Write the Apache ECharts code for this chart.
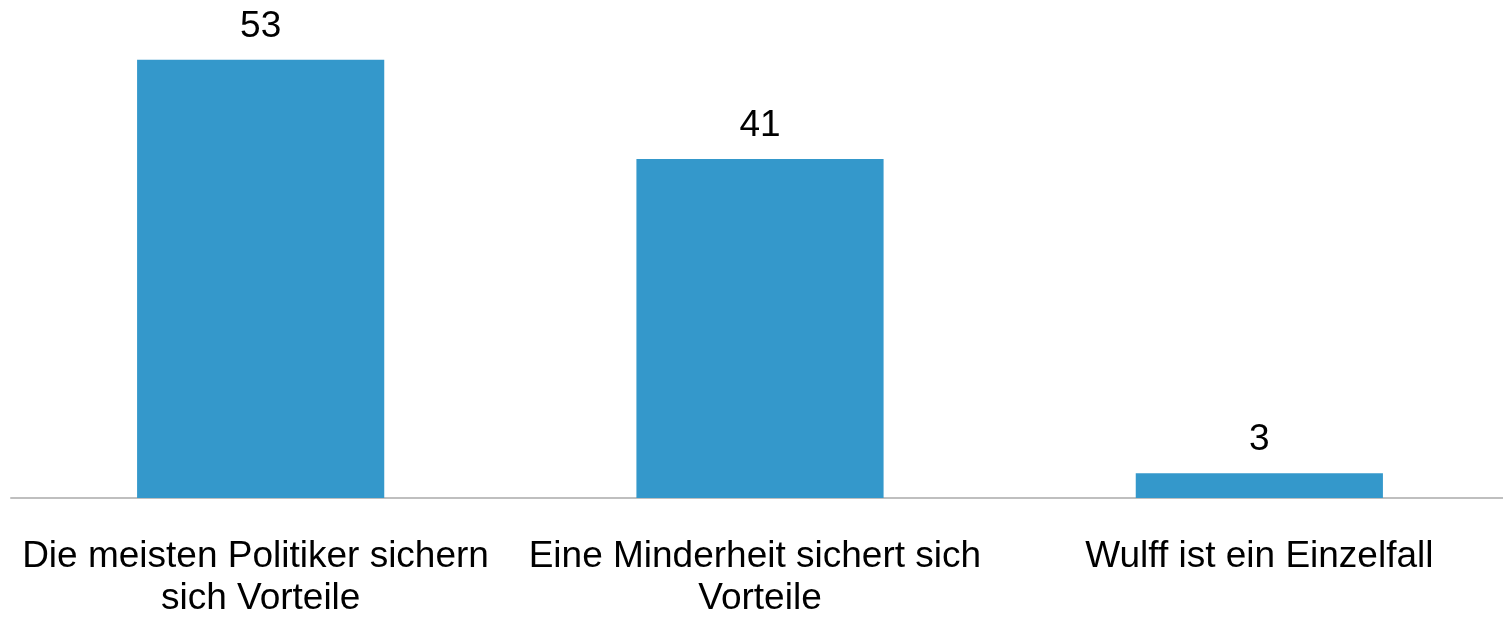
<!DOCTYPE html>
<html>
<head>
<meta charset="utf-8">
<script src="https://cdn.jsdelivr.net/npm/echarts@6/dist/echarts.min.js"></script>
<style>
  html, body { margin: 0; padding: 0; background: #ffffff; }
  #chart { width: 1503px; height: 618px; }
</style>
</head>
<body>
<div id="chart"></div>
<script>
// Survey answers (percent)
const categories = [
  'Die meisten Politiker sichern sich Vorteile',
  'Eine Minderheit sichert sich Vorteile',
  'Wulff ist ein Einzelfall'
];
const values = [53, 41, 3];

const chart = echarts.init(document.getElementById('chart'));
chart.setOption({
  animation: false,
  grid: {
    left: 11, width: 1498, top: 2, bottom: 120,
    containLabel: false,
    outerBoundsMode: 'none'
  },
  xAxis: {
    type: 'category',
    data: categories,
    axisLine: { show: true, lineStyle: { color: '#bfbfbf', width: 2 } },
    axisTick: { show: false },
    axisLabel: {
      interval: 0,
      margin: 38,
      width: 490,
      overflow: 'break',
      fontFamily: 'Liberation Sans, Arial, sans-serif',
      fontSize: 37,
      lineHeight: 42,
      color: '#000000',
      align: 'center'
    }
  },
  yAxis: {
    type: 'value',
    min: 0,
    max: 60,
    show: false,
    splitLine: { show: false }
  },
  series: [{
    type: 'bar',
    data: values,
    barWidth: '49.5%',
    itemStyle: { color: '#3498cb' },
    label: {
      show: true,
      position: 'top',
      distance: 15,
      fontFamily: 'Liberation Sans, Arial, sans-serif',
      fontSize: 37,
      color: '#000000'
    }
  }]
});
</script>
</body>
</html>
